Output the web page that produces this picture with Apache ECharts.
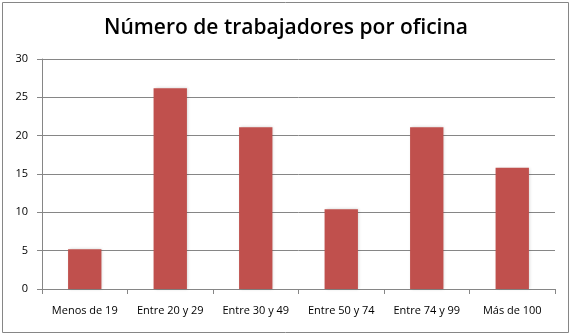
<!DOCTYPE html>
<html><head><meta charset="utf-8">
<script src="https://cdn.jsdelivr.net/npm/echarts@6/dist/echarts.min.js"></script>
<style>html,body{margin:0;padding:0;background:#fff}#c{width:572px;height:336px}</style>
</head><body><div id="c"></div>
<script>
const categories = ["Menos de 19","Entre 20 y 29","Entre 30 y 49","Entre 50 y 74","Entre 74 y 99","Más de 100"];
const values = [5.2, 26.2, 21.1, 10.4, 21.1, 15.8];
const yTicks = [0, 5, 10, 15, 20, 25, 30];
const title = "Número de trabajadores por oficina";

const chart = echarts.init(document.getElementById('c'), null, {renderer:'canvas'});
chart.setOption({
  animation:false,
  backgroundColor:'#fff',
  graphic:[{type:'rect',shape:{x:2.5,y:2.5,width:566,height:330},style:{fill:'none',stroke:'#868686',lineWidth:1},silent:true}],
  title:{text:title,left:'center',top:13,textStyle:{fontFamily:'Open Sans',fontWeight:600,fontSize:21,color:'#000'}},
  grid:{left:42,right:17,top:59,bottom:47,containLabel:false},
  xAxis:{type:'category',data:categories,
    axisLine:{lineStyle:{color:'#868686'}},
    axisTick:{show:true,alignWithLabel:false,length:5,lineStyle:{color:'#868686'}},
    axisLabel:{color:'#000',fontFamily:'Open Sans',fontSize:11,margin:16,interval:0}},
  yAxis:{type:'value',min:yTicks[0],max:yTicks[yTicks.length-1],interval:5,
    axisLine:{show:true,lineStyle:{color:'#868686'}},
    axisTick:{show:true,length:5,lineStyle:{color:'#868686'}},
    splitLine:{lineStyle:{color:'#868686'}},
    axisLabel:{color:'#000',fontFamily:'Open Sans',fontSize:11,margin:14}},
  series:[{type:'bar',data:values,barWidth:'39%',
    itemStyle:{color:'#C0504D',shadowColor:'rgba(0,0,0,0.18)',shadowBlur:3,shadowOffsetX:1,shadowOffsetY:0}}]
});
</script></body></html>
